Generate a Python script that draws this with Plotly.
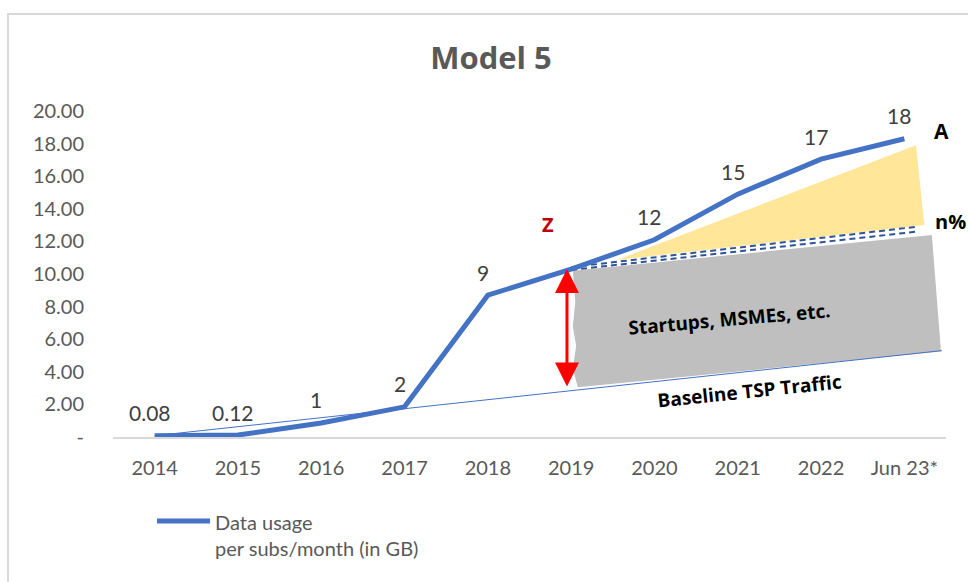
"""Model 5 - uso de datos por suscriptor al mes"""

import plotly.graph_objects as go

# Categorías del eje x y valores de la serie
periodos = ["2014", "2015", "2016", "2017", "2018", "2019", "2020", "2021", "2022", "Jun 23*"]
uso_datos = [0.08, 0.12, 0.86, 1.85, 8.7, 10.3, 12.1, 14.9, 17.05, 18.3]
etiquetas = ["0.08", "0.12", "1", "2", "9", "", "12", "15", "17", "18"]

# Marcas del eje y
y_ticks = [0, 2, 4, 6, 8, 10, 12, 14, 16, 18, 20]
y_ticktext = ["-", "2.00", "4.00", "6.00", "8.00", "10.00", "12.00", "14.00", "16.00", "18.00", "20.00"]

# Recta base (tráfico TSP)
base_x = [0, 9.45]
base_y = [0.08, 5.3]

# Zona gris: Startups, MSMEs, etc.
gris_x = [5.02, 9.33, 9.44, 5.08, 5.02, 5.06, 5.02, 5.05, 5.02]
gris_y = [10.2, 12.4, 5.25, 3.05, 4.2, 5.6, 6.8, 8.3, 10.2]

# Triángulo amarillo (n%)
amarillo_x = [5.55, 9.14, 9.24, 5.55]
amarillo_y = [10.86, 17.9, 13.0, 10.86]

# Líneas discontinuas dobles
discont_x = [5.0, 9.15]
discont_y1 = [10.42, 12.9]
discont_y2 = [10.25, 12.6]

# Flecha roja Z
flecha_x = 4.95
flecha_y = [3.0, 10.3]

azul = "#4472C4"
gris_texto = "#595959"
fuente = "Lato, sans-serif"
fuente_negrita = "Open Sans, sans-serif"

# Conversión de píxeles a coordenadas "paper" (área del gráfico 113-946 x 111-437)
def px_x(p):
    return (p - 113) / 833


def px_y(p):
    return (437 - p) / 326


fig = go.Figure()

# Se dibujan las figuras de fondo
fig.add_trace(go.Scatter(x=gris_x, y=gris_y, fill="toself", fillcolor="#BFBFBF",
                         line=dict(width=0), mode="lines", showlegend=False, hoverinfo="skip"))
fig.add_trace(go.Scatter(x=amarillo_x, y=amarillo_y, fill="toself", fillcolor="#FFE699",
                         line=dict(width=0), mode="lines", showlegend=False, hoverinfo="skip"))
for yy in (discont_y1, discont_y2):
    fig.add_trace(go.Scatter(x=discont_x, y=yy, mode="lines", showlegend=False,
                             line=dict(color="#2F5597", width=2, dash="6px,4px"), hoverinfo="skip"))

# Recta base
fig.add_trace(go.Scatter(x=base_x, y=base_y, mode="lines", showlegend=False,
                         line=dict(color=azul, width=1)))

# Serie principal
fig.add_trace(go.Scatter(x=list(range(len(periodos))), y=uso_datos, mode="lines",
                         name="Data usage per subs/month (in GB)", showlegend=False,
                         line=dict(color=azul, width=5)))

# Etiquetas de datos
for i, (v, t) in enumerate(zip(uso_datos, etiquetas)):
    if t:
        fig.add_annotation(x=i, y=v, text=t, showarrow=False, yshift=23, xshift=-5,
                           font=dict(size=21, color="#404040", family=fuente))

# Flecha roja de doble punta
fig.add_annotation(x=flecha_x, y=flecha_y[1], ax=flecha_x, ay=flecha_y[0],
                   xref="x", yref="y", axref="x", ayref="y", text="",
                   showarrow=True, arrowhead=2, arrowside="end+start",
                   arrowsize=1.6, arrowwidth=3, arrowcolor="#FF0000")

# Textos del diagrama
negrita = dict(family=fuente_negrita, color="black", size=21)
fig.add_annotation(x=4.72, y=13.05, text="<b>Z</b>", showarrow=False,
                   font=dict(family=fuente_negrita, color="#C00000", size=20))
fig.add_annotation(x=9.45, y=18.75, text="<b>A</b>", showarrow=False, font=negrita)
fig.add_annotation(x=9.34, y=13.2, text="<b>n%</b>", showarrow=False, xanchor="left",
                   font=dict(family=fuente_negrita, color="black", size=20))
fig.add_annotation(x=9.6, y=5.85, text="<b>C</b>", showarrow=False, font=negrita)
fig.add_annotation(x=6.9, y=7.25, text="<b>Startups, MSMEs, etc.</b>", showarrow=False,
                   textangle=-5, font=dict(family=fuente_negrita, color="black", size=19))
fig.add_annotation(x=7.14, y=2.85, text="<b>Baseline TSP Traffic</b>", showarrow=False,
                   textangle=-6, font=dict(family=fuente_negrita, color="black", size=19))

# Leyenda dibujada a mano
fig.add_shape(type="line", xref="paper", yref="paper", x0=px_x(157), x1=px_x(210),
              y0=px_y(521), y1=px_y(521), line=dict(color=azul, width=5))
fig.add_annotation(xref="paper", yref="paper", x=px_x(213), y=px_y(508), xanchor="left",
                   yanchor="top", align="left", showarrow=False,
                   text="Data usage<br>per subs/month (in GB)",
                   font=dict(family=fuente, size=20, color=gris_texto))

# Borde del gráfico
fig.add_shape(type="rect", xref="paper", yref="paper", x0=px_x(8), x1=1.2, y0=-0.8, y1=px_y(14),
              line=dict(color="#D9D9D9", width=2), layer="below")

fig.update_layout(
    width=968, height=582,
    margin=dict(l=113, r=22, t=111, b=145),
    paper_bgcolor="white", plot_bgcolor="white",
    title=dict(text="<b>Model 5</b>", x=491 / 968, xref="container", y=1 - 58 / 582,
               yref="container", xanchor="center", yanchor="middle",
               font=dict(family=fuente_negrita, size=31, color=gris_texto)),
    font=dict(family=fuente, color=gris_texto, size=20),
    showlegend=False,
)
fig.update_xaxes(range=[-0.5, 9.5], tickvals=list(range(len(periodos))), ticktext=periodos,
                 showgrid=False, zeroline=False, showline=True, linecolor="#D9D9D9", linewidth=1.5,
                 ticks="", ticklabelstandoff=12, fixedrange=True)
fig.update_yaxes(range=[0, 20], tickvals=y_ticks, ticktext=y_ticktext, showgrid=False,
                 zeroline=False, showline=False, ticks="", ticklabelstandoff=28, fixedrange=True)

# Se quita el margen del body para que la figura quede en la esquina
fig.write_html("out.html", config={"displayModeBar": False},
               post_script="document.body.style.margin='0';")
